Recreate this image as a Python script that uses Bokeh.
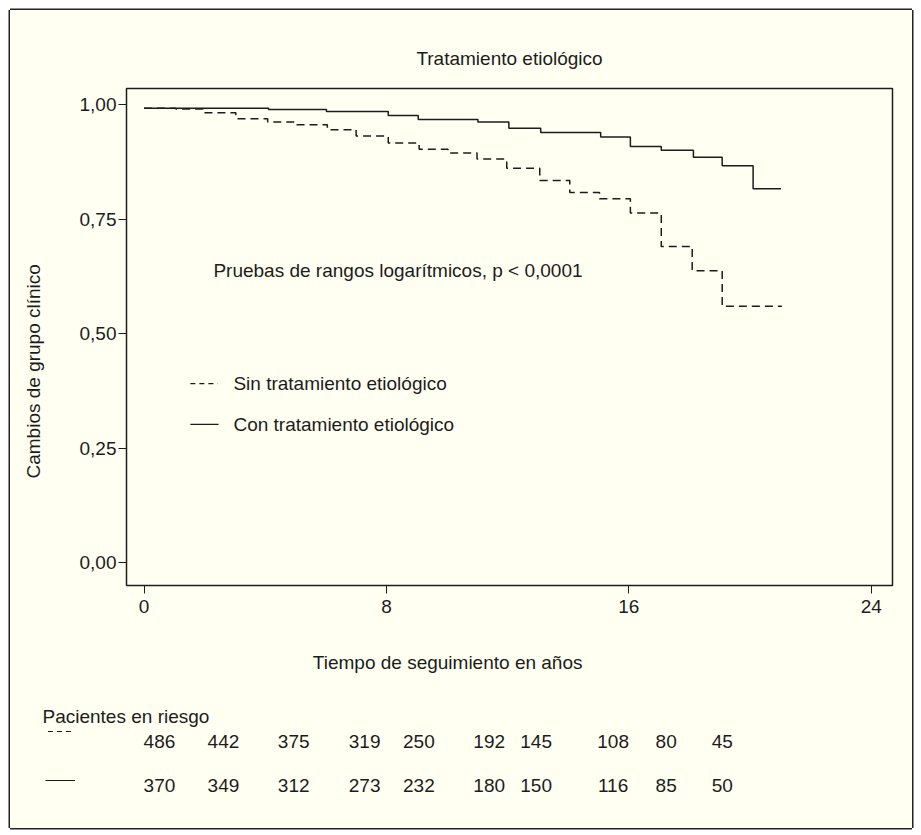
from bokeh.plotting import figure
from bokeh.models import (Range1d, FixedTicker, CustomJSTickFormatter,
                          ColumnDataSource)
from bokeh.core.properties import value
from bokeh.embed import file_html
from bokeh.resources import INLINE

# ---------------- data ----------------
title_text = "Tratamiento etiológico"
ylabel_text = "Cambios de grupo clínico"
xlabel_text = "Tiempo de seguimiento en años"
test_text = "Pruebas de rangos logarítmicos, p < 0,0001"
series_names = ["Sin tratamiento etiológico", "Con tratamiento etiológico"]

# Kaplan-Meier steps: Sin tratamiento (dashed)
sin_t = [0, 1.05, 1.94, 3.03, 4.08, 5.0, 6.05, 7.0, 8.06, 9.08, 10.03, 10.99,
         11.97, 13.06, 14.05, 15.03, 16.05, 17.07, 18.09, 19.08, 21.05]
sin_s = [0.993, 0.991, 0.983, 0.970, 0.963, 0.957, 0.946, 0.932, 0.917, 0.903,
         0.895, 0.882, 0.862, 0.835, 0.809, 0.795, 0.764, 0.691, 0.638, 0.560,
         0.560]
# Con tratamiento (solid)
con_t = [0, 4.11, 6.02, 8.06, 9.05, 11.02, 12.04, 13.09, 15.07, 16.05, 17.07,
         18.13, 19.08, 20.1, 21.02]
con_s = [0.993, 0.990, 0.986, 0.977, 0.968, 0.963, 0.949, 0.940, 0.930, 0.909,
         0.901, 0.886, 0.867, 0.817, 0.817]

x_ticks = [0, 8, 16, 24]
y_ticks = [0, 0.25, 0.5, 0.75, 1.0]

risk_title = "Pacientes en riesgo"
risk_sin = [486, 442, 375, 319, 250, 192, 145, 108, 80, 45]
risk_con = [370, 349, 312, 273, 232, 180, 150, 116, 85, 50]
risk_cols = [0.51, 2.62, 4.94, 7.28, 9.07, 11.39, 12.94, 15.48, 17.23, 19.08]

# ---------------- style ----------------
FONT = "Liberation Sans"
INK = "#1c1c1c"
BG = "#FFFFF2"
FS = "19px"
NB = "\u00a0"
EDGE = "#222"

W = 902
p = figure(width=W, height=630,
           x_range=Range1d(-0.578, 24.70), y_range=Range1d(-0.050, 1.036),
           output_backend="svg", toolbar_location=None,
           min_border_left=116, min_border_right=20,
           min_border_top=78, min_border_bottom=55)
p.background_fill_color = BG
p.border_fill_color = BG
p.outline_line_color = INK
p.outline_line_width = 1.5
p.grid.visible = False
p.styles = {"margin": "10px 0 0 10px",
            "box-shadow": f"-1.5px 0 0 0 {EDGE}, 1.5px 0 0 0 {EDGE}, "
                          f"0 -1.5px 0 0 {EDGE}"}

p.title.text = title_text
p.title.align = "center"
p.title.text_font = FONT
p.title.text_font_size = FS
p.title.text_font_style = "normal"
p.title.text_color = INK
p.title.standoff = 40

for ax in (p.xaxis[0], p.yaxis[0]):
    ax.axis_line_color = None
    ax.major_tick_line_color = INK
    ax.major_tick_line_width = 1
    ax.major_tick_in = 0
    ax.major_tick_out = 8
    ax.minor_tick_line_color = None
    ax.major_label_text_font = FONT
    ax.major_label_text_font_size = FS
    ax.major_label_text_color = INK

p.xaxis.ticker = FixedTicker(ticks=x_ticks)
p.yaxis.ticker = FixedTicker(ticks=y_ticks)
p.yaxis.formatter = CustomJSTickFormatter(
    code="return tick.toFixed(2).replace('.', ',');")
p.xaxis.major_label_standoff = 6
p.yaxis.major_label_standoff = 2

# y label, shifted downward by trailing non-breaking spaces
p.yaxis.axis_label = ylabel_text + NB * 13
p.yaxis.axis_label_text_font = FONT
p.yaxis.axis_label_text_font_size = FS
p.yaxis.axis_label_text_font_style = "normal"
p.yaxis.axis_label_text_color = INK
p.yaxis.axis_label_standoff = 33

# curves
p.step(sin_t, sin_s, mode="after", line_color=INK, line_width=1.5,
       line_dash="8 5")
p.step(con_t, con_s, mode="after", line_color=INK, line_width=1.5)

# legend inside plot
p.line([1.53, 2.43], [0.391, 0.391], line_color=INK, line_width=1.2,
       line_dash="5 4")
p.line([1.53, 2.46], [0.302, 0.302], line_color=INK, line_width=1.2)

txt = dict(text_font=value(FONT), text_font_size=FS, text_color=INK,
           text_baseline="middle")
p.text(x=[2.95, 2.95], y=[0.391, 0.302], text=series_names,
       text_align="left", **txt)
p.text(x=[2.29], y=[0.638], text=[test_text], text_align="left", **txt)

# ---------- lower panel: x label + patients at risk ----------
q = figure(width=W, height=188,
           x_range=Range1d(-4.406, 25.36), y_range=Range1d(188, 0),
           output_backend="svg", toolbar_location=None,
           x_axis_type=None, y_axis_type=None,
           min_border=0, min_border_left=0, min_border_right=0,
           min_border_top=0, min_border_bottom=0)
q.background_fill_color = BG
q.border_fill_color = BG
q.outline_line_color = None
q.grid.visible = False
q.styles = {"margin": "0 0 0 10px",
            "box-shadow": f"-1.5px 0 0 0 {EDGE}, 1.5px 0 0 0 {EDGE}, "
                          f"0 1.5px 0 0 {EDGE}"}

q.text(x=[10.02], y=[22], text=[xlabel_text], text_align="center", **txt)
q.text(x=[-3.35], y=[76], text=[risk_title], text_align="left", **txt)
q.line([-3.17, -2.33], [91, 91], line_color=INK, line_width=1.2,
       line_dash="5 4")
q.line([-3.25, -2.28], [140, 140], line_color=INK, line_width=1.2)
for vals, yv in ((risk_sin, 101), (risk_con, 145)):
    src = ColumnDataSource(dict(x=risk_cols, y=[yv] * len(vals),
                                t=[str(v) for v in vals]))
    q.text(x="x", y="y", text="t", source=src, text_align="center", **txt)

open("out.html", "w").write(file_html([p, q], INLINE))
